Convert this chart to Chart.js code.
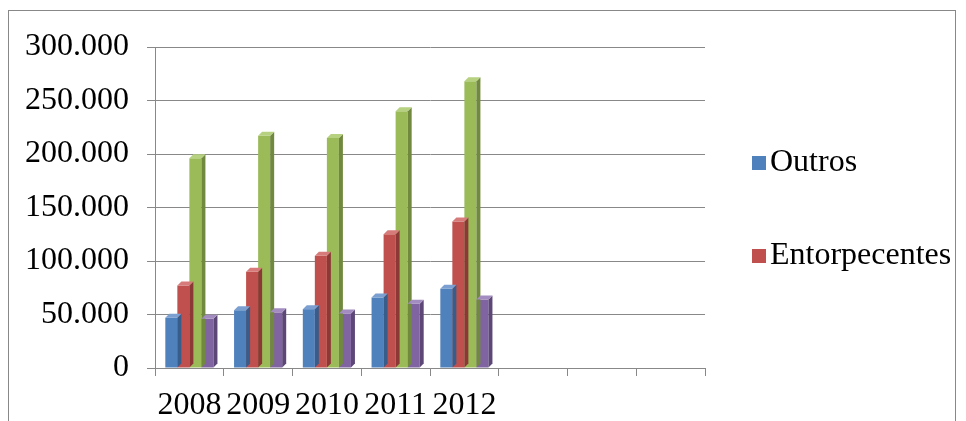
<!DOCTYPE html>
<html>
<head>
<meta charset="utf-8">
<script src="https://cdn.jsdelivr.net/npm/chart.js@4/dist/chart.umd.min.js"></script>
<style>
  html, body { margin: 0; padding: 0; background: #fff; }
  #frame { position: absolute; left: 8px; top: 10px; width: 948px; height: 420px; border: 1px solid #888; border-bottom: none; box-sizing: border-box; }
  #wrap { position: absolute; left: 0; top: 0; width: 966px; height: 421px; }
  .leg { position: absolute; left: 752px; font: 32px 'Liberation Serif', serif; color: #000; line-height: 32px; white-space: nowrap; }
  .leg span { display: inline-block; width: 14px; height: 14px; margin-right: 4px; vertical-align: 1px; }
</style>
</head>
<body>
<div id="frame"></div>
<div id="wrap"><canvas id="chart"></canvas></div>
<div id="legend"></div>
<script>
// 카테고리 (뒤쪽 빈 칸 포함)
const categories = ['2008', '2009', '2010', '2011', '2012', '', '', ''];
const outros = [47000, 54000, 55000, 66000, 74000];
const entorpecentes = [77000, 90000, 105000, 125000, 137000];
const serie3 = [196000, 217000, 215000, 240000, 268000];
const serie4 = [46000, 52000, 51000, 60000, 64000];
const yTicks = [0, 50000, 100000, 150000, 200000, 250000, 300000];

const colors = ['#4f81bd', '#c0504d', '#9bbb59', '#8064a2'];
const sideColors = ['#385d8a', '#8c3836', '#71893f', '#5c4776'];
const topColors = ['#7a9fd0', '#d67b79', '#b6d17f', '#a28cc0'];

// 3D 효과 (옆면, 윗면)
const depthPlugin = {
    id: 'depth',
    afterDatasetsDraw(chart) {
        const ctx = chart.ctx;
        const d = 4;
        chart.data.datasets.forEach((ds, i) => {
            chart.getDatasetMeta(i).data.forEach(bar => {
                const w = bar.width;
                const x0 = bar.x - w / 2, x1 = bar.x + w / 2;
                const yt = bar.y, yb = bar.base;
                ctx.fillStyle = sideColors[i];
                ctx.beginPath();
                ctx.moveTo(x1, yb); ctx.lineTo(x1 + d, yb - d);
                ctx.lineTo(x1 + d, yt - d); ctx.lineTo(x1, yt); ctx.closePath(); ctx.fill();
                ctx.fillStyle = topColors[i];
                ctx.beginPath();
                ctx.moveTo(x0, yt); ctx.lineTo(x0 + d, yt - d);
                ctx.lineTo(x1 + d, yt - d); ctx.lineTo(x1, yt); ctx.closePath(); ctx.fill();
            });
        });
    }
};

const serif = 'Liberation Serif';

const chart = new Chart(document.getElementById('chart'), {
    type: 'bar',
    data: {
        labels: categories,
        datasets: [
            { label: 'Outros', data: outros, backgroundColor: colors[0] },
            { label: 'Entorpecentes', data: entorpecentes, backgroundColor: colors[1] },
            { label: 'Série 3', data: serie3, backgroundColor: colors[2] },
            { label: 'Série 4', data: serie4, backgroundColor: colors[3] }
        ]
    },
    options: {
        responsive: true,
        maintainAspectRatio: false,
        animation: false,
        datasets: { bar: { barPercentage: 1, categoryPercentage: 0.7 } },
        layout: { padding: { left: 8, top: 47, right: 261, bottom: 0 } },
        plugins: { tooltip: { enabled: false }, legend: { display: false } },
        scales: {
            x: {
                afterFit: s => { s.height = 53; },
                grid: { display: true, drawOnChartArea: false, tickLength: 8, color: '#888' },
                border: { color: '#888' },
                ticks: { color: '#000', maxRotation: 0, autoSkip: false, padding: 10, font: { family: serif, size: 32 } }
            },
            y: {
                min: 0, max: 300000,
                afterFit: s => { s.width = 147; },
                afterBuildTicks: axis => { axis.ticks = yTicks.map(v => ({ value: v })); },
                grid: { color: '#888', tickLength: 8 },
                border: { color: '#888' },
                ticks: {
                    color: '#000',
                    padding: 18,
                    font: { family: serif, size: 32 },
                    callback: v => v === 0 ? '0' : (v / 1000).toFixed(0) + '.000'
                }
            }
        }
    },
    plugins: [depthPlugin]
});

// 범례 (처음 두 계열만)
const legendTops = [144, 237];
['Outros', 'Entorpecentes'].forEach((name, i) => {
    const el = document.createElement('div');
    el.className = 'leg';
    el.style.top = legendTops[i] + 'px';
    el.innerHTML = '<span style="background:' + colors[i] + '"></span>' + name;
    document.getElementById('legend').appendChild(el);
});
</script>
</body>
</html>
